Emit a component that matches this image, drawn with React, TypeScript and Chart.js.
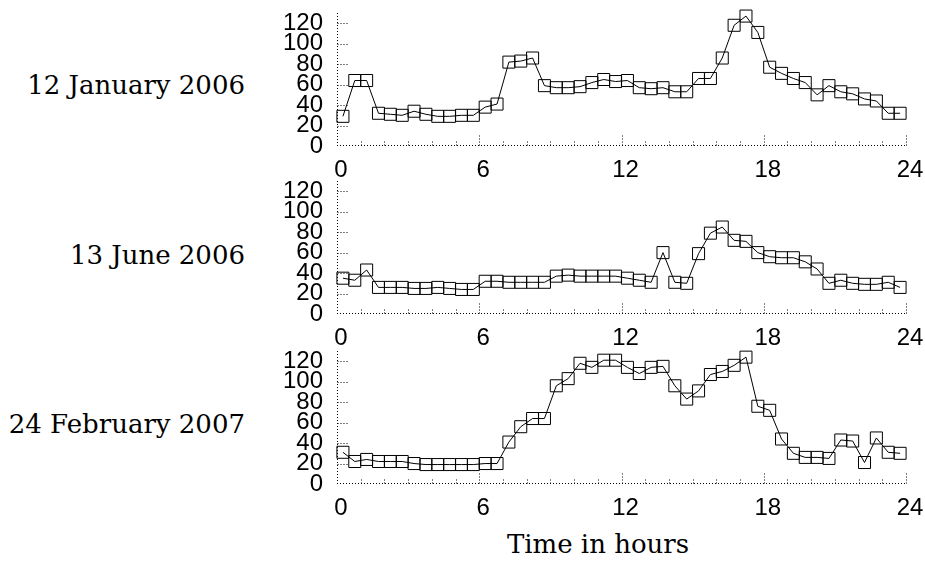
import React, { useEffect, useRef } from 'react';
import { Chart, registerables } from 'chart.js';

Chart.register(...registerables);

// Half-hour sample centres (hours)
const hours = [
  0.25, 0.75, 1.25, 1.75, 2.25, 2.75, 3.25, 3.75, 4.25, 4.75, 5.25, 5.75,
  6.25, 6.75, 7.25, 7.75, 8.25, 8.75, 9.25, 9.75, 10.25, 10.75, 11.25, 11.75,
  12.25, 12.75, 13.25, 13.75, 14.25, 14.75, 15.25, 15.75, 16.25, 16.75, 17.25, 17.75,
  18.25, 18.75, 19.25, 19.75, 20.25, 20.75, 21.25, 21.75, 22.25, 22.75, 23.25, 23.75,
];

const jan12 = [
  29, 64, 64, 32, 31, 30, 34, 31, 29, 29, 30, 30,
  38, 41, 82, 83, 86, 59, 57, 57, 58, 62, 65, 63,
  64, 57, 56, 57, 53, 53, 66, 66, 86, 118, 127, 111,
  77, 71, 66, 62, 50, 59, 53, 51, 46, 44, 32, 32,
];

const jun13 = [
  35, 33, 43, 26, 26, 26, 25, 25, 26, 25, 24, 24,
  32, 32, 31, 31, 31, 31, 37, 38, 37, 37, 37, 37,
  35, 33, 31, 60, 31, 30, 59, 79, 85, 72, 71, 60,
  56, 55, 55, 51, 44, 30, 33, 30, 29, 29, 31, 26,
];

const feb24 = [
  31, 22, 24, 22, 22, 22, 20, 19, 19, 19, 19, 19,
  20, 20, 41, 56, 64, 64, 96, 103, 118, 114, 121, 121,
  114, 108, 114, 115, 96, 83, 91, 107, 110, 116, 124, 76,
  72, 44, 30, 26, 26, 25, 43, 42, 21, 45, 31, 30,
];

const panelLabels = ['12 January 2006', '13 June 2006', '24 February 2007'];
const xTicks = [0, 6, 12, 18, 24];
const xMinorTicks = [1, 2, 3, 4, 5, 7, 8, 9, 10, 11, 13, 14, 15, 16, 17, 19, 20, 21, 22, 23];
const yTicks = [0, 20, 40, 60, 80, 100, 120];
const xTitle = 'Time in hours';

const SANS = '"Liberation Sans", Arial, Helvetica, sans-serif';
const SERIF = '"DejaVu Serif", serif';

const dottedFrame = {
  id: 'dottedFrame',
  beforeDatasetsDraw(chart: any) {
    const { ctx, chartArea, scales } = chart;
    const x = scales.x;
    const y = scales.y;
    ctx.save();
    ctx.strokeStyle = '#000';
    ctx.lineWidth = 1;
    ctx.setLineDash([1, 2]);
    const left = Math.round(chartArea.left) + 0.5;
    const bottom = Math.round(chartArea.bottom) - 0.5;
    const top = Math.round(chartArea.top);
    const right = Math.round(chartArea.right) + 1;
    // axis lines (left and bottom only)
    ctx.beginPath();
    ctx.moveTo(left, top);
    ctx.lineTo(left, bottom);
    ctx.stroke();
    ctx.beginPath();
    ctx.moveTo(left - 0.5, bottom);
    ctx.lineTo(right, bottom);
    ctx.stroke();
    for (const v of yTicks) {
      if (v === 0) continue;
      const py = Math.round(y.getPixelForValue(v)) + 0.5;
      ctx.beginPath();
      ctx.moveTo(left, py);
      ctx.lineTo(left + 12, py);
      ctx.stroke();
    }
    for (const v of xMinorTicks) {
      const px = Math.round(x.getPixelForValue(v)) + 0.5;
      ctx.beginPath();
      ctx.moveTo(px, bottom);
      ctx.lineTo(px, bottom - 5);
      ctx.stroke();
    }
    for (const v of xTicks) {
      if (v === 0) continue;
      const px = Math.round(x.getPixelForValue(v)) + 0.5;
      ctx.beginPath();
      ctx.moveTo(px, bottom);
      ctx.lineTo(px, bottom - 10);
      ctx.stroke();
    }
    ctx.restore();
  },
};

const CANVAS_W = 675;
const CANVAS_H = 190;

function Panel({ values, top }: { values: number[]; top: number }) {
  const ref = useRef<HTMLCanvasElement>(null);
  useEffect(() => {
    const chart = new Chart(ref.current as HTMLCanvasElement, {
      type: 'line',
      data: {
        datasets: [
          {
            data: hours.map((h, i) => ({ x: h, y: values[i] })),
            borderColor: '#000',
            borderWidth: 1,
            pointStyle: 'rect',
            pointRadius: 8.5,
            pointBorderColor: '#000',
            pointBackgroundColor: 'rgba(0,0,0,0)',
            pointBorderWidth: 1,
            tension: 0,
            fill: false,
            clip: false as any,
          },
        ],
      },
      options: {
        responsive: false,
        animation: false,
        devicePixelRatio: 1,
        layout: { padding: { left: 0, right: 19, top: 12, bottom: 0 } },
        plugins: { legend: { display: false }, tooltip: { enabled: false } },
        scales: {
          x: {
            type: 'linear',
            min: 0,
            max: 24,
            afterBuildTicks: (s: any) => {
              s.ticks = xTicks.map((v) => ({ value: v }));
            },
            afterFit: (s: any) => {
              s.height = 45;
              s.paddingLeft = 0;
              s.paddingRight = 0;
            },
            grid: { display: false, drawTicks: false },
            border: { display: false },
            ticks: {
              color: '#000',
              font: { family: SANS, size: 24 },
              padding: 10,
              labelOffset: 4,
              maxRotation: 0,
              autoSkip: false,
            },
          },
          y: {
            type: 'linear',
            min: 0,
            max: 130,
            afterBuildTicks: (s: any) => {
              s.ticks = yTicks.map((v) => ({ value: v }));
            },
            afterFit: (s: any) => {
              s.width = 87;
              s.paddingTop = 0;
              s.paddingBottom = 0;
            },
            grid: { display: false, drawTicks: false },
            border: { display: false },
            ticks: {
              color: '#000',
              font: { family: SANS, size: 24 },
              padding: 14,
              autoSkip: false,
            },
          },
        },
      } as any,
      plugins: [dottedFrame],
    });
    return () => chart.destroy();
  }, [values]);
  return (
    <canvas
      ref={ref}
      width={CANVAS_W}
      height={CANVAS_H}
      style={{ position: 'absolute', left: 250, top, width: CANVAS_W, height: CANVAS_H }}
    />
  );
}

const labelStyle = (top: number): React.CSSProperties => ({
  position: 'absolute',
  right: 925 - 245,
  top,
  font: `26px ${SERIF}`,
  lineHeight: '26px',
  whiteSpace: 'nowrap',
  color: '#000',
});

export default function App() {
  const series = [jan12, jun13, feb24];
  const canvasTops = [1, 169, 339];
  const labelTops = [72, 242, 411];
  return (
    <div
      style={{
        position: 'fixed',
        left: 0,
        top: 0,
        width: 925,
        height: 562,
        background: '#fff',
        overflow: 'hidden',
      }}
    >
      {series.map((s, i) => (
        <Panel key={i} values={s} top={canvasTops[i]} />
      ))}
      {panelLabels.map((t, i) => (
        <div key={t} style={labelStyle(labelTops[i])}>
          {t}
        </div>
      ))}
      <div
        style={{
          position: 'absolute',
          left: 598,
          top: 531,
          transform: 'translateX(-50%)',
          font: `26px ${SERIF}`,
          lineHeight: '26px',
          whiteSpace: 'nowrap',
          color: '#000',
        }}
      >
        {xTitle}
      </div>
    </div>
  );
}
